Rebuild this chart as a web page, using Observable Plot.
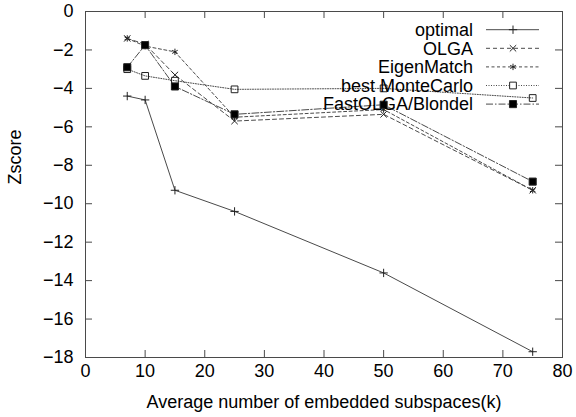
<!DOCTYPE html>
<html><head><meta charset="utf-8">
<script src="https://cdn.jsdelivr.net/npm/d3@7"></script>
<script src="https://cdn.jsdelivr.net/npm/@observablehq/plot@0.6"></script>
<style>body{margin:0;background:#fff}</style>
</head><body><div id="chart"></div>
<script>
// ---- data ----
const xValues = [7, 10, 15, 25, 50, 75];
const optimal = [-4.4, -4.6, -9.3, -10.4, -13.6, -17.7];
const olga = [-1.4, -1.7, -3.3, -5.7, -5.35, -9.3];
const eigenMatch = [-1.4, -1.8, -2.1, -5.5, -5.1, -9.3];
const bestMonteCarlo = [-3.0, -3.35, -3.6, -4.05, -4.0, -4.5];
const fastOlga = [-2.9, -1.75, -3.9, -5.35, -4.85, -8.85];
const seriesNames = ["optimal", "OLGA", "EigenMatch", "best MonteCarlo", "FastOLGA/Blondel"];
const seriesValues = [optimal, olga, eigenMatch, bestMonteCarlo, fastOlga];
const xTicks = [0, 10, 20, 30, 40, 50, 60, 70, 80];
const yTicks = [-18, -16, -14, -12, -10, -8, -6, -4, -2, 0];
const xLabel = "Average number of embedded subspaces(k)";
const yLabel = "Zscore";

// ---- styles ----
const seriesStyle = [
  {dash: null, symbol: "plus", r: 2.8, fill: "none"},
  {dash: "4,3", symbol: "times", r: 3.0, fill: "none"},
  {dash: "3,2.5", symbol: "asterisk", r: 3.0, fill: "none"},
  {dash: "1,1.5", symbol: "square", r: 3.8, fill: "none"},
  {dash: "7,2,1.5,2", symbol: "square", r: 4.0, fill: "#000"}
];

const rows = seriesNames.flatMap((name, i) =>
  xValues.map((x, j) => ({series: name, idx: i, x, y: seriesValues[i][j]})));

const W = 576, H = 417, mL = 85, mR = 14, mT = 11, mB = 60;
const fw = W - mL - mR, fh = H - mT - mB, tk = 7;
const font = "'Liberation Sans', Arial, Helvetica, sans-serif";
const lineColor = "#4a4a4a";

const marks = [
  Plot.ruleX(xTicks, {x: d => d, insetTop: fh - tk, stroke: lineColor}),
  Plot.ruleX(xTicks, {x: d => d, insetBottom: fh - tk, stroke: lineColor}),
  Plot.ruleY(yTicks, {y: d => d, insetRight: fw - tk, stroke: lineColor}),
  Plot.ruleY(yTicks, {y: d => d, insetLeft: fw - tk, stroke: lineColor}),
  Plot.axisX(xTicks, {tickSize: 0, tickPadding: 7, fontSize: 18, label: null}),
  Plot.axisY(yTicks, {tickSize: 0, tickPadding: 12, fontSize: 18, label: null})
];
seriesNames.forEach((name, i) => {
  const s = seriesStyle[i];
  const d = rows.filter(r => r.idx === i);
  marks.push(Plot.line(d, {x: "x", y: "y", stroke: lineColor, strokeWidth: 1, strokeDasharray: s.dash}));
});
seriesNames.forEach((name, i) => {
  const s = seriesStyle[i];
  const d = rows.filter(r => r.idx === i);
  marks.push(Plot.dot(d, {x: "x", y: "y", symbol: s.symbol, r: s.r, stroke: "#222", strokeWidth: 1, fill: s.fill}));
});
marks.push(Plot.frame({stroke: lineColor}));
marks.push(Plot.text([yLabel], {frameAnchor: "left", dx: -70, rotate: -90, fontSize: 18, fill: "#000"}));
marks.push(Plot.text([xLabel], {frameAnchor: "bottom", dy: 50, fontSize: 18, fill: "#000"}));

const plot = Plot.plot({
  width: W, height: H,
  marginLeft: mL, marginRight: mR, marginTop: mT, marginBottom: mB,
  x: {domain: [0, 80]},
  y: {domain: [-18, 0]},
  style: {fontFamily: font, fontSize: "18px", color: "#000", background: "#fff"},
  marks
});

// ---- legend (inside the frame, top-right) ----
const svg = d3.select(plot);
const lg = svg.append("g").attr("font-family", font).attr("font-size", 18);
const symMap = {plus: d3.symbolPlus, times: d3.symbolTimes, asterisk: d3.symbolAsterisk, square: d3.symbolSquare};
const textRight = W - mR - 89, lineX1 = W - mR - 76, lineX2 = W - mR - 23, markX = W - mR - 49;
seriesNames.forEach((name, i) => {
  const s = seriesStyle[i];
  const y = mT + 18.7 + 18.6 * i;
  lg.append("text").attr("x", textRight).attr("y", y).attr("text-anchor", "end")
    .attr("dy", "0.35em").attr("fill", "#000").text(name);
  lg.append("line").attr("x1", lineX1).attr("x2", lineX2).attr("y1", y).attr("y2", y)
    .attr("stroke", lineColor).attr("stroke-dasharray", s.dash);
  lg.append("path").attr("transform", `translate(${markX},${y})`)
    .attr("d", d3.symbol(symMap[s.symbol], Math.PI * s.r * s.r)())
    .attr("stroke", "#222").attr("fill", s.fill === "none" ? (s.symbol === "square" ? "#fff" : "none") : s.fill);
});

document.getElementById("chart").appendChild(plot);
</script>
</body></html>
